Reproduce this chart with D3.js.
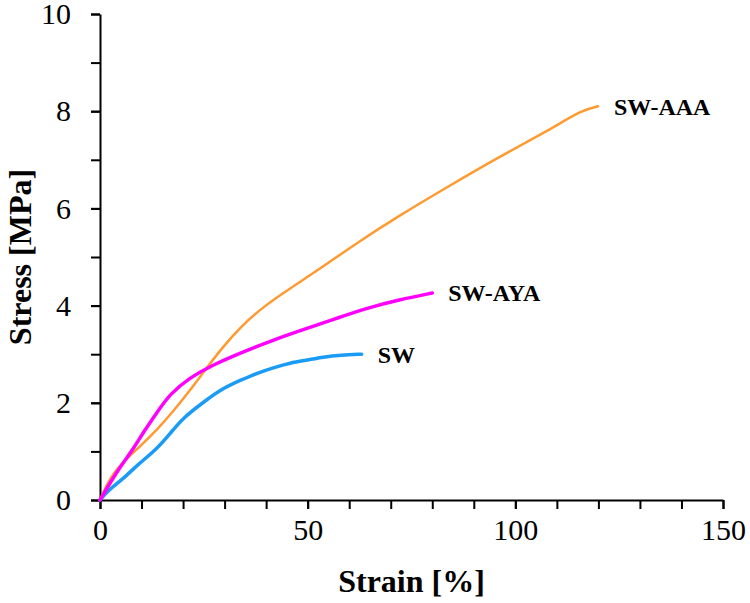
<!DOCTYPE html>
<html>
<head>
<meta charset="utf-8">
<script src="https://cdn.jsdelivr.net/npm/d3@7"></script>
<style>
  body { margin: 0; background: #fff; }
  .axis path, .axis line { stroke: #000; stroke-width: 2; }
</style>
</head>
<body>
<svg id="chart" width="750" height="603"></svg>
<script>
let swStrain = [0, 2, 5.5, 9, 13.7, 17, 20, 25, 29.6, 34, 37.8, 42, 45.7, 50, 53.7, 58, 63];
let swStress = [0, 0.2, 0.43, 0.72, 1.05, 1.38, 1.69, 2.02, 2.3, 2.47, 2.61, 2.73, 2.82, 2.88, 2.94, 2.98, 3.0];

let ayaStrain = [0, 2.4, 5, 8, 10.5, 13.7, 16.8, 21.7, 26.5, 33.7, 41.6, 49.8, 57, 64.3, 72, 80];
let ayaStress = [0, 0.35, 0.7, 1.05, 1.4, 1.8, 2.18, 2.52, 2.75, 3.02, 3.29, 3.53, 3.74, 3.95, 4.12, 4.26];

let aaaStrain = [0, 2.4, 6, 9.6, 13.7, 17.6, 21.7, 25.7, 29.6, 33.7, 39.2, 45.7, 53.7, 62, 72.2, 84, 96.3, 108.3, 116.2, 119.9];
let aaaStress = [0, 0.47, 0.82, 1.1, 1.44, 1.82, 2.26, 2.72, 3.15, 3.55, 3.97, 4.35, 4.8, 5.3, 5.86, 6.46, 7.07, 7.62, 8.03, 8.1];

let seriesNames = ["SW", "SW-AYA", "SW-AAA"];
let seriesColors = ["#1a9bf5", "#ff00ff", "#ff9a30"];

let xTicks = [0, 50, 100, 150];
let yTicks = [0, 2, 4, 6, 8, 10];

const serif = "'Liberation Serif', 'Times New Roman', Times, serif";

let margin = {top: 14, right: 27, bottom: 103, left: 100};

let svg = d3.select("#chart"),
width = +svg.attr("width") - margin.left - margin.right,
height = +svg.attr("height") - margin.top - margin.bottom;

let g = svg.append("g").
attr("transform", "translate(" + margin.left + "," + margin.top + ")");

let x = d3.scaleLinear().domain([0, 150]).range([0, width]);
let y = d3.scaleLinear().domain([0, 10]).range([height, 0]);

// minor ticks first, then the labelled axis on top
g.append("g").
attr("class", "axis").
attr("transform", "translate(0," + height + ")").
call(d3.axisBottom(x).tickValues(d3.range(0, 151, 10)).tickSize(9).tickSizeOuter(0).tickFormat("")).
select(".domain").remove();

g.append("g").
attr("class", "axis").
call(d3.axisLeft(y).tickValues(d3.range(0, 11, 1)).tickSize(9).tickSizeOuter(0).tickFormat("")).
select(".domain").remove();

g.append("g").
attr("class", "axis").
attr("transform", "translate(0," + height + ")").
call(d3.axisBottom(x).tickValues(xTicks).tickSize(9).tickSizeOuter(0).tickPadding(10));

g.append("g").
attr("class", "axis").
call(d3.axisLeft(y).tickValues(yTicks).tickSize(9).tickSizeOuter(0).tickPadding(20));

g.selectAll(".axis text").
style("font-family", serif).
style("font-size", "30px").
attr("fill", "#000");

let line = d3.line().
x(d => x(d[0])).
y(d => y(d[1])).
curve(d3.curveBasis);

let series = [
  {name: seriesNames[0], color: seriesColors[0], pts: d3.zip(swStrain, swStress), w: 3.5},
  {name: seriesNames[1], color: seriesColors[1], pts: d3.zip(ayaStrain, ayaStress), w: 3.5},
  {name: seriesNames[2], color: seriesColors[2], pts: d3.zip(aaaStrain, aaaStress), w: 2.5}
];

// orange goes under the other two
[series[2], series[0], series[1]].forEach(s => {
  g.append("path").
  datum(s.pts).
  attr("fill", "none").
  attr("stroke", s.color).
  attr("stroke-width", s.w).
  attr("stroke-linejoin", "round").
  attr("stroke-linecap", "round").
  attr("d", line);
});

series.forEach(s => {
  let last = s.pts[s.pts.length - 1];
  g.append("text").
  attr("x", x(last[0]) + 16).
  attr("y", y(last[1])).
  attr("dy", "0.35em").
  style("font-family", serif).
  style("font-size", "24px").
  style("font-weight", "bold").
  text(s.name);
});

svg.append("text").
attr("x", margin.left + x(75)).
attr("y", 592).
attr("text-anchor", "middle").
style("font-family", serif).
style("font-size", "32px").
style("font-weight", "bold").
text("Strain [%]");

svg.append("text").
attr("transform", "translate(31," + (margin.top + y(5)) + ") rotate(-90)").
attr("text-anchor", "middle").
style("font-family", serif).
style("font-size", "32px").
style("font-weight", "bold").
text("Stress [MPa]");
</script>
</body>
</html>
